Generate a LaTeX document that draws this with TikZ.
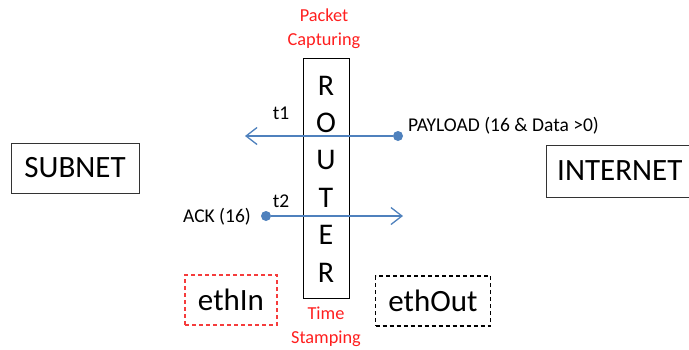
\documentclass[tikz,border=0pt]{standalone}
\usepackage{fontspec}
\setmainfont{Carlito}
\usetikzlibrary{arrows.meta}
\definecolor{flowblue}{RGB}{79,129,189}
\definecolor{notered}{RGB}{255,30,30}
\definecolor{portred}{RGB}{245,60,60}
\tikzset{
  x=1pt, y=-1pt,
  bigbox/.style={draw=black!80, line width=1pt, minimum height=50pt, inner sep=0pt, font=\fontsize{31}{33}\selectfont},
  ifbox/.style={dash pattern=on 4pt off 3pt, line width=1.1pt, minimum height=50pt, inner sep=0pt, text=black, font=\fontsize{31}{33}\selectfont},
  note/.style={text=notered, align=center, font=\fontsize{18.3}{24}\selectfont, inner sep=0pt},
  label/.style={font=\fontsize{19.5}{21}\selectfont, inner sep=0pt},
  endpoint/.style={circle, fill=flowblue, inner sep=0pt, minimum size=10pt},
  flow/.style={draw=flowblue, line width=1.3pt, -{Straight Barb[length=11pt, width=17pt, line width=1.3pt]}},
}
\begin{document}
\begin{tikzpicture}
\useasboundingbox (0,0) rectangle (689,349);

% end systems
\node[bigbox, minimum width=128pt] (subnet) at (75,168) {SUBNET};
\draw[black!80, line width=1pt] (700,145) -- (546,145) -- (546,197) -- (700,197);
\node[font=\fontsize{31}{33}\selectfont, inner sep=0pt, anchor=west] (internet) at (557,171) {INTERNET};

% router column
\node[draw, line width=1pt, minimum width=46pt, minimum height=240pt, inner sep=0pt] (router) at (326,178) {};
\node[align=center, inner sep=0pt, font=\fontsize{30}{37.4}\selectfont] (routertext) at (326,179) {R\\O\\U\\T\\E\\R};

\node[note] (capture) at (324,29) {Packet\\Capturing};
\node[note] (stamp) at (326,327) {Time\\Stamping};

% interfaces
\node[ifbox, draw=portred, minimum width=92pt] (ethin) at (231,300) {ethIn};
\node[ifbox, draw=black, minimum width=115pt] (ethout) at (433,301) {ethOut};

% payload flow, internet to subnet
\node[endpoint] (pdot) at (398,136) {};
\coordinate (pend) at (245,136);
\draw[flow] (pdot) -- (pend);
\node[label, anchor=west] (plabel) at (408,126) {PAYLOAD (16 \& Data >0)};
\node[label] (t1) at (281,113) {t1};

% ack flow, subnet to internet
\node[endpoint] (adot) at (266,216) {};
\coordinate (aend) at (403,216);
\draw[flow] (adot) -- (aend);
\node[label, anchor=east] (alabel) at (251,217) {ACK (16)};
\node[label] (t2) at (281,201) {t2};
\end{tikzpicture}
\end{document}
